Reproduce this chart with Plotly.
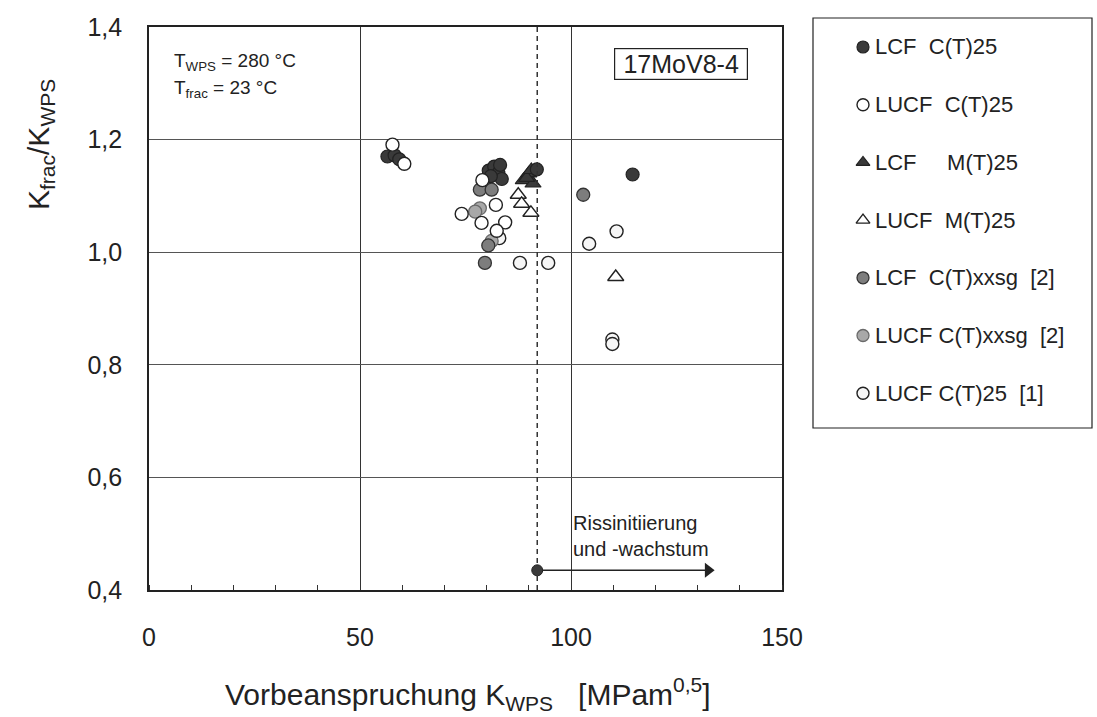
import plotly.graph_objects as go

# ---------------- data ----------------
lcf_ct25_x = [56.5, 58.2, 59.3, 80.5, 81.8, 82.8, 83.6, 81.0, 83.2, 91.9, 114.6]
lcf_ct25_y = [1.170, 1.172, 1.165, 1.145, 1.152, 1.140, 1.130, 1.135, 1.155, 1.147, 1.138]

lucf_ct25_x = [57.7, 60.5, 79.0, 74.1, 82.2, 78.8, 84.4, 82.4]
lucf_ct25_y = [1.191, 1.157, 1.128, 1.068, 1.084, 1.052, 1.053, 1.038]

lcf_mt25_x = [88.7, 90.0, 91.0, 89.5, 90.6]
lcf_mt25_y = [1.128, 1.140, 1.122, 1.132, 1.146]

lucf_mt25_x = [87.5, 88.3, 90.5, 110.6]
lucf_mt25_y = [1.102, 1.086, 1.070, 0.956]

lcf_xxsg_x = [78.4, 81.2, 79.6, 102.9, 80.4]
lcf_xxsg_y = [1.111, 1.111, 0.981, 1.102, 1.012]

lucf_xxsg_x = [78.4, 77.3, 79.5, 81.2]
lucf_xxsg_y = [1.078, 1.072, 1.125, 1.020]

lucf_ct25_1_x = [87.9, 94.6, 104.3, 110.8, 109.8, 109.8, 83.0]
lucf_ct25_1_y = [0.981, 0.981, 1.015, 1.037, 0.845, 0.837, 1.025]

k_wps_line = 92          # dashed line / start of arrow
arrow_end = 132.5
arrow_y = 0.435

legend_labels = [
    "LCF\u00a0\u00a0C(T)25",
    "LUCF\u00a0\u00a0C(T)25",
    "LCF\u00a0\u00a0\u00a0\u00a0\u00a0M(T)25",
    "LUCF\u00a0\u00a0M(T)25",
    "LCF\u00a0\u00a0C(T)xxsg\u00a0\u00a0[2]",
    "LUCF\u00a0C(T)xxsg\u00a0\u00a0[2]",
    "LUCF\u00a0C(T)25\u00a0\u00a0[1]",
]

# ---------------- layout geometry ----------------
W, H = 1097, 717
L, R, T, B = 149, 782, 27, 590
FONT = "Liberation Sans, Arial, sans-serif"
DARK = "#3a3a3a"


def px(x):
    return x / W


def py(y):
    return 1 - y / H


styles = [
    dict(symbol="circle", color=DARK, line=dict(color="#222", width=1.2)),
    dict(symbol="circle", color="white", line=dict(color="#222", width=1.4)),
    dict(symbol="triangle-up", color=DARK, line=dict(color="#222", width=1.2)),
    dict(symbol="triangle-up", color="white", line=dict(color="#222", width=1.4)),
    dict(symbol="circle", color="#7d7d7d", line=dict(color="#333", width=1.3)),
    dict(symbol="circle", color="#a8a8a8", line=dict(color="#6a6a6a", width=1.3)),
    dict(symbol="circle", color="#f6f6f6", line=dict(color="#222", width=1.4)),
]
series = [
    (lcf_ct25_x, lcf_ct25_y),
    (lucf_ct25_x, lucf_ct25_y),
    (lcf_mt25_x, lcf_mt25_y),
    (lucf_mt25_x, lucf_mt25_y),
    (lcf_xxsg_x, lcf_xxsg_y),
    (lucf_xxsg_x, lucf_xxsg_y),
    (lucf_ct25_1_x, lucf_ct25_1_y),
]
order = [6, 5, 4, 3, 2, 0, 1]

fig = go.Figure()
for i in order:
    xs, ys = series[i]
    st = styles[i]
    size = 13 if st["symbol"] == "circle" else 14
    fig.add_trace(go.Scatter(
        x=xs, y=ys, mode="markers", name=legend_labels[i], showlegend=False,
        marker=dict(symbol=st["symbol"], size=size, color=st["color"], line=st["line"]),
    ))

# dashed vertical line
fig.add_trace(go.Scatter(
    x=[k_wps_line, k_wps_line], y=[0.4, 1.4], mode="lines", showlegend=False,
    line=dict(color="#333", width=1.5, dash="5px,4px"),
))
# arrow shaft
fig.add_trace(go.Scatter(
    x=[k_wps_line, arrow_end], y=[arrow_y, arrow_y], mode="lines", showlegend=False,
    line=dict(color="#222", width=1.4),
))
# arrow head
fig.add_trace(go.Scatter(
    x=[arrow_end], y=[arrow_y], mode="markers", showlegend=False,
    marker=dict(symbol="triangle-right", size=13, color="#222", line=dict(width=0)),
))
# start point
fig.add_trace(go.Scatter(
    x=[k_wps_line], y=[arrow_y], mode="markers", showlegend=False,
    marker=dict(symbol="circle", size=11, color=DARK, line=dict(color="#222", width=1)),
))
fig.add_annotation(
    x=px(571), y=py(536), xref="paper", yref="paper", xanchor="left", yanchor="middle",
    text="Rissinitiierung<br>und -wachstum", showarrow=False, align="left",
    font=dict(family=FONT, size=20, color="#222"),
)

# legend (manual, in its own axes)
leg_top, leg_bottom, leg_left, leg_right = 18, 428, 813, 1092
leg_first, leg_step = 29, 57.7
for i, lab in enumerate(legend_labels):
    st = styles[i]
    yy = leg_first + i * leg_step
    fig.add_trace(go.Scatter(
        x=[50], y=[yy], xaxis="x2", yaxis="y2", mode="markers", showlegend=False,
        marker=dict(symbol=st["symbol"], size=12, color=st["color"], line=st["line"]),
    ))
    fig.add_annotation(
        x=60, y=yy, xref="x2", yref="y2", xanchor="left", yanchor="middle",
        text=lab, showarrow=False, font=dict(family=FONT, size=22, color="#222"),
    )
fig.add_shape(type="rect", xref="x2 domain", yref="y2 domain", x0=0, x1=1, y0=0, y1=1,
              line=dict(color="#222", width=1.2))

fig.add_annotation(
    x=px(172), y=py(62), xref="paper", yref="paper", xanchor="left", yanchor="middle",
    text="T<sub>WPS</sub> = 280 °C", showarrow=False, font=dict(family=FONT, size=19, color="#222"),
)
fig.add_annotation(
    x=px(172), y=py(89), xref="paper", yref="paper", xanchor="left", yanchor="middle",
    text="T<sub>frac</sub> = 23 °C", showarrow=False, font=dict(family=FONT, size=19, color="#222"),
)
fig.add_annotation(
    x=px(681), y=py(64), xref="paper", yref="paper", xanchor="center", yanchor="middle",
    text="17MoV8-4", showarrow=False, bordercolor="#222", borderwidth=1.2, borderpad=0,
    width=132, height=30,
    bgcolor="white", font=dict(family=FONT, size=25, color="#222"),
)
fig.add_annotation(
    x=px(468), y=py(694), xref="paper", yref="paper", xanchor="center", yanchor="middle",
    text="Vorbeanspruchung K<sub>WPS</sub>\u00a0\u00a0\u00a0[MPam<sup>0,5</sup>]", showarrow=False,
    font=dict(family=FONT, size=30, color="#222"),
)
fig.add_annotation(
    x=px(40), y=py(145), xref="paper", yref="paper", xanchor="center", yanchor="middle",
    text="K<sub>frac</sub>/K<sub>WPS</sub>", showarrow=False, textangle=-90,
    font=dict(family=FONT, size=30, color="#222"),
)

fig.update_layout(
    template="none",
    width=W, height=H, margin=dict(l=0, r=0, t=0, b=0, pad=0), autosize=False,
    paper_bgcolor="white", plot_bgcolor="white", separators=", ",
    font=dict(family=FONT, color="#222"),
    xaxis=dict(
        domain=[px(L), px(R)], range=[0, 150], tickvals=[0, 50, 100, 150], automargin=False,
        showgrid=True, gridcolor="#333", gridwidth=1.3, zeroline=False,
        showline=True, mirror=True, linecolor="#222", linewidth=1.6,
        ticks="", tickfont=dict(size=25, family=FONT, color="#222"), ticklabelstandoff=24,
        minor=dict(dtick=10, ticks="inside", ticklen=5, tickcolor="#333", tickwidth=1, showgrid=False),
    ),
    yaxis=dict(
        domain=[py(B), py(T)], range=[0.4, 1.4], dtick=0.2, tick0=0.4, tickformat=".1f",
        automargin=False,
        showgrid=True, gridcolor="#555", gridwidth=1, zeroline=False,
        showline=True, mirror=True, linecolor="#222", linewidth=1.6,
        ticks="", tickfont=dict(size=25, family=FONT, color="#222"), ticklabelstandoff=20,
    ),
    xaxis2=dict(domain=[px(leg_left), px(leg_right)], range=[0, leg_right - leg_left],
                visible=False, fixedrange=True, anchor="y2", automargin=False),
    yaxis2=dict(domain=[py(leg_bottom), py(leg_top)], range=[leg_bottom - leg_top, 0],
                visible=False, fixedrange=True, anchor="x2", automargin=False),
    showlegend=False,
)

fig.write_html(
    "out.html",
    config={"displayModeBar": False, "responsive": False},
    post_script="document.body.style.margin='0';document.body.style.overflow='hidden';",
)
